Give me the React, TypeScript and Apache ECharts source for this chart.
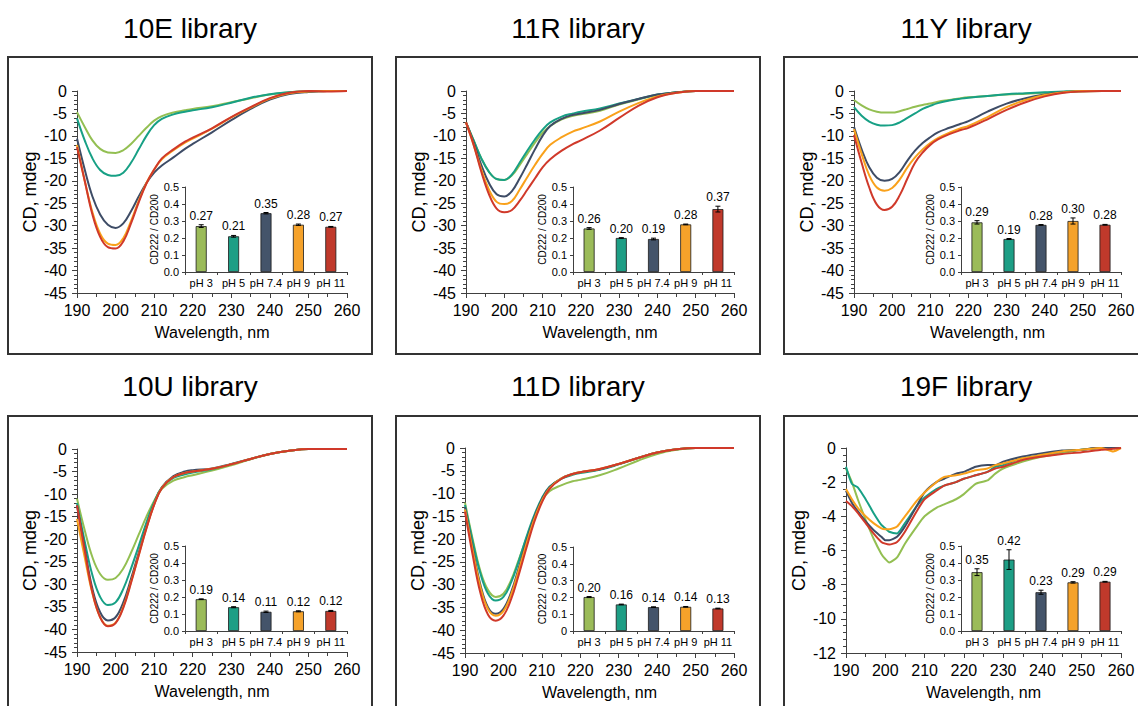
import React, { useEffect, useRef } from "react";
import * as echarts from "echarts";

// ---------- data ----------
const WL = [190, 192, 194, 196, 198, 200, 202, 204, 206, 208, 210, 212, 215, 218, 220, 225, 230, 235, 240, 245, 250, 255, 260];
const WL_19F = [190, 191.5, 193, 195, 197, 199, 200, 201, 203, 205, 208, 210, 213, 215, 218, 220, 223, 226, 228, 230, 235, 240, 245, 250, 255, 258, 260];

const CATEGORIES = ["pH 3", "pH 5", "pH 7.4", "pH 9", "pH 11"];
const TITLES = ["10E library", "11R library", "11Y library", "10U library", "11D library", "19F library"];

// 10E
const E10_PH3 = [-4.7, -8.0, -11.0, -12.9, -13.7, -13.8, -13.2, -11.8, -10.0, -8.2, -6.6, -5.6, -4.8, -4.3, -4.0, -3.4, -2.5, -1.6, -0.8, -0.3, -0.1, 0, 0];
const E10_PH5 = [-6.1, -11.0, -15.0, -17.6, -18.7, -18.9, -18.2, -16.0, -13.0, -10.0, -7.6, -6.2, -5.2, -4.6, -4.3, -3.6, -2.6, -1.5, -0.7, -0.3, -0.1, 0, 0];
const E10_PH74 = [-10.6, -17.5, -23.5, -27.5, -29.8, -30.5, -29.5, -26.8, -23.5, -20.5, -18.2, -16.6, -14.8, -12.9, -11.8, -9.2, -6.5, -4.0, -1.9, -0.7, -0.2, 0, 0];
const E10_PH9 = [-12.0, -20.0, -27.0, -31.8, -34.0, -34.3, -32.8, -29.0, -24.5, -20.5, -17.5, -15.2, -13.2, -11.5, -10.6, -8.4, -5.9, -3.7, -1.7, -0.5, -0.1, 0, 0];
const E10_PH11 = [-12.5, -20.0, -27.5, -32.5, -34.8, -35.1, -33.5, -29.5, -24.8, -20.6, -17.5, -15.0, -13.0, -11.3, -10.4, -8.3, -5.8, -3.6, -1.6, -0.4, 0, -0.1, 0];
// 11R
const R11_PH3 = [-7.0, -11.0, -15.0, -18.0, -19.6, -19.8, -18.8, -16.5, -14.0, -11.5, -9.3, -7.8, -6.3, -5.5, -5.2, -4.4, -3.0, -1.9, -0.9, -0.3, 0, 0, 0];
const R11_PH5 = [-7.0, -11.0, -15.0, -18.0, -19.6, -19.8, -18.6, -16.0, -13.3, -10.8, -8.6, -7.0, -5.7, -5.0, -4.6, -3.9, -2.8, -1.8, -0.8, -0.3, 0, 0, 0];
const R11_PH74 = [-7.0, -11.5, -16.5, -20.5, -23.0, -23.5, -22.3, -19.5, -16.3, -13.0, -10.0, -7.8, -6.2, -5.3, -5.0, -4.2, -2.9, -1.8, -0.8, -0.3, 0, 0, 0];
const R11_PH9 = [-7.0, -12.0, -17.5, -22.0, -24.7, -25.2, -24.5, -22.0, -19.2, -16.5, -14.0, -12.0, -10.3, -9.0, -8.4, -6.8, -4.6, -2.7, -1.2, -0.4, 0, 0, 0];
const R11_PH11 = [-7.0, -12.0, -18.0, -23.0, -26.2, -27.0, -26.5, -24.5, -22.0, -19.5, -17.0, -15.2, -13.3, -11.8, -11.0, -8.8, -6.0, -3.3, -1.4, -0.4, 0, 0, 0];
// 11Y
const Y11_PH3 = [-2.0, -3.2, -4.1, -4.6, -4.8, -4.8, -4.5, -4.0, -3.5, -3.1, -2.8, -2.4, -2.0, -1.6, -1.4, -1.1, -0.8, -0.6, -0.4, -0.2, -0.1, 0, 0];
const Y11_PH5 = [-3.6, -5.5, -6.8, -7.5, -7.7, -7.6, -7.0, -6.0, -5.0, -4.0, -3.3, -2.7, -2.1, -1.7, -1.5, -1.1, -0.7, -0.5, -0.3, -0.1, 0, 0, 0];
const Y11_PH74 = [-8.0, -13.0, -17.0, -19.3, -20.0, -19.6, -18.0, -15.5, -13.3, -11.6, -10.3, -9.2, -8.2, -7.3, -6.7, -4.6, -2.8, -1.6, -0.8, -0.3, 0, 0, 0];
const Y11_PH9 = [-8.5, -14.0, -18.8, -21.5, -22.2, -21.6, -19.7, -17.0, -14.8, -13.0, -11.6, -10.5, -9.3, -8.3, -7.8, -5.8, -3.6, -2.0, -0.9, -0.3, 0, 0, 0];
const Y11_PH11 = [-9.8, -16.0, -21.5, -25.3, -26.5, -25.8, -23.2, -19.5, -16.0, -13.7, -12.0, -10.8, -9.6, -8.7, -8.2, -6.3, -4.2, -2.5, -1.2, -0.4, -0.1, 0, 0];
// 10U
const U10_PH3 = [-11.0, -18.0, -24.0, -27.7, -29.0, -28.6, -26.5, -23.0, -19.0, -15.0, -11.5, -8.8, -7.0, -6.2, -5.8, -4.8, -3.6, -2.3, -1.1, -0.4, 0, 0, 0];
const U10_PH5 = [-12.0, -20.5, -28.0, -32.8, -34.6, -34.0, -31.0, -26.5, -21.5, -16.3, -11.8, -8.5, -6.4, -5.6, -5.2, -4.5, -3.4, -2.2, -1.1, -0.4, 0, 0, 0];
const U10_PH74 = [-12.5, -22.0, -31.0, -36.2, -38.0, -37.3, -34.0, -28.8, -23.0, -17.3, -12.2, -8.5, -6.0, -5.0, -4.7, -4.3, -3.3, -2.2, -1.1, -0.4, 0, 0, 0];
const U10_PH9 = [-15.5, -24.0, -32.0, -37.3, -39.2, -38.5, -35.0, -29.5, -23.5, -17.5, -12.3, -8.6, -6.2, -5.3, -5.0, -4.4, -3.4, -2.2, -1.1, -0.4, 0, 0, 0];
const U10_PH11 = [-12.5, -22.5, -31.8, -37.3, -39.3, -38.6, -35.2, -29.7, -23.6, -17.6, -12.4, -8.7, -6.2, -5.3, -5.0, -4.4, -3.4, -2.2, -1.1, -0.4, 0, 0, 0];
// 11D
const D11_PH3 = [-12.0, -20.0, -27.0, -31.2, -32.7, -32.0, -29.0, -24.5, -19.8, -15.3, -11.5, -9.5, -8.2, -7.3, -7.0, -6.0, -4.5, -2.8, -1.3, -0.4, 0, 0, 0];
const D11_PH5 = [-12.5, -20.5, -27.5, -32.0, -33.5, -32.7, -29.5, -24.8, -19.5, -14.8, -11.0, -8.5, -6.8, -5.9, -5.5, -4.8, -3.6, -2.2, -1.0, -0.3, 0, 0, 0];
const D11_PH74 = [-13.0, -22.0, -30.0, -35.0, -36.4, -35.3, -31.7, -26.3, -20.5, -15.3, -11.3, -8.6, -6.7, -5.7, -5.3, -4.7, -3.5, -2.2, -1.0, -0.3, 0, 0, 0];
const D11_PH9 = [-13.5, -22.5, -30.5, -35.4, -36.8, -35.8, -32.2, -26.8, -21.0, -15.7, -11.6, -8.8, -6.7, -5.7, -5.3, -4.6, -3.5, -2.2, -1.0, -0.3, 0, 0, 0];
const D11_PH11 = [-14.0, -23.5, -31.8, -36.6, -37.9, -36.8, -33.2, -27.8, -21.9, -16.3, -12.0, -9.0, -6.8, -5.7, -5.3, -4.6, -3.5, -2.2, -1.0, -0.3, 0, 0, 0];
// 19F
const F19_PH3 = [-1.2, -2.0, -3.0, -4.2, -5.3, -6.2, -6.5, -6.7, -6.4, -5.6, -4.6, -4.0, -3.5, -3.3, -3.0, -2.7, -2.1, -1.9, -1.5, -1.2, -0.8, -0.5, -0.3, -0.1, 0, 0, 0];
const F19_PH5 = [-1.1, -2.1, -2.3, -3.0, -3.8, -4.5, -4.7, -4.9, -5.0, -4.4, -3.4, -2.9, -2.4, -2.2, -2.0, -1.8, -1.6, -1.4, -1.1, -1.0, -0.6, -0.4, -0.2, -0.1, 0, 0, 0];
const F19_PH74 = [-2.5, -3.2, -3.7, -4.3, -4.8, -5.2, -5.4, -5.4, -5.2, -4.6, -3.4, -2.6, -2.0, -1.8, -1.5, -1.4, -1.1, -1.0, -1.0, -0.8, -0.5, -0.3, -0.15, -0.1, 0.05, 0.05, 0];
const F19_PH9 = [-2.4, -3.0, -3.5, -4.0, -4.4, -4.7, -4.75, -4.75, -4.6, -4.0, -3.1, -2.6, -2.0, -1.7, -1.6, -1.5, -1.3, -1.2, -1.0, -0.9, -0.6, -0.4, -0.2, -0.1, 0, -0.2, 0];
const F19_PH11 = [-3.1, -3.4, -3.8, -4.4, -5.0, -5.5, -5.6, -5.65, -5.5, -4.9, -3.7, -3.0, -2.5, -2.2, -2.0, -1.8, -1.6, -1.4, -1.2, -1.1, -0.7, -0.5, -0.35, -0.25, -0.1, -0.05, 0];

// inset ratios CD222/CD200 and their error bars
const RATIO_10E = [0.27, 0.21, 0.346, 0.278, 0.266];
const ERR_10E = [0.008, 0.005, 0.004, 0.004, 0.002];
const RATIO_11R = [0.256, 0.2, 0.194, 0.28, 0.37];
const ERR_11R = [0.005, 0.002, 0.005, 0.002, 0.017];
const RATIO_11Y = [0.292, 0.194, 0.277, 0.3, 0.278];
const ERR_11Y = [0.01, 0.003, 0.002, 0.018, 0.002];
const RATIO_10U = [0.187, 0.14, 0.113, 0.116, 0.118];
const ERR_10U = [0.002, 0.003, 0.004, 0.003, 0.003];
const RATIO_11D = [0.202, 0.158, 0.142, 0.144, 0.134];
const ERR_11D = [0.003, 0.002, 0.002, 0.002, 0.002];
const RATIO_19F = [0.346, 0.42, 0.228, 0.286, 0.29];
const ERR_19F = [0.02, 0.058, 0.012, 0.004, 0.002];

// ---------- styling ----------
const LINE_COLORS = ["#93BF52", "#17A085", "#3E4C66", "#F9A11B", "#D0392A"];
const BAR_COLORS = ["#9BBB59", "#1D9E85", "#44546A", "#F5A22A", "#C0392B"];
const FONT = '"Liberation Sans", Arial, sans-serif';
const AXIS = "#404040";

const PANELS = [
  { title: TITLES[0], wl: WL, curves: [E10_PH3, E10_PH5, E10_PH74, E10_PH9, E10_PH11], ratio: RATIO_10E, err: ERR_10E, yMin: -45, yStep: 5, zeroLabel: "0.0" },
  { title: TITLES[1], wl: WL, curves: [R11_PH3, R11_PH5, R11_PH74, R11_PH9, R11_PH11], ratio: RATIO_11R, err: ERR_11R, yMin: -45, yStep: 5, zeroLabel: "0.0" },
  { title: TITLES[2], wl: WL, curves: [Y11_PH3, Y11_PH5, Y11_PH74, Y11_PH9, Y11_PH11], ratio: RATIO_11Y, err: ERR_11Y, yMin: -45, yStep: 5, zeroLabel: "0.0" },
  { title: TITLES[3], wl: WL, curves: [U10_PH3, U10_PH5, U10_PH74, U10_PH9, U10_PH11], ratio: RATIO_10U, err: ERR_10U, yMin: -45, yStep: 5, zeroLabel: "0.0" },
  { title: TITLES[4], wl: WL, curves: [D11_PH3, D11_PH5, D11_PH74, D11_PH9, D11_PH11], ratio: RATIO_11D, err: ERR_11D, yMin: -45, yStep: 5, zeroLabel: "0" },
  { title: TITLES[5], wl: WL_19F, curves: [F19_PH3, F19_PH5, F19_PH74, F19_PH9, F19_PH11], ratio: RATIO_19F, err: ERR_19F, yMin: -12, yStep: 2, zeroLabel: "0.0" },
];

// page-pixel layout: box [x,y,w,h], title centre [x,y], main grid [l,t,w,h], inset grid [l,t,w,h]
const LAYOUT = [
  { box: [8, 57, 364, 297], title: [190, 28], main: [77, 91, 270, 202], inset: [185, 187, 162, 85] },
  { box: [396, 57, 364, 297], title: [578, 28], main: [466, 91, 268, 202], inset: [573, 187, 161, 85] },
  { box: [784, 57, 364, 297], title: [966, 28], main: [854, 91, 267, 202], inset: [961, 187, 160, 85] },
  { box: [8, 416, 364, 300], title: [190, 386], main: [77, 449, 270, 203], inset: [185, 546, 162, 85] },
  { box: [396, 416, 364, 300], title: [578, 386], main: [465, 448, 269, 205], inset: [573, 547, 161, 84] },
  { box: [784, 416, 364, 300], title: [966, 386], main: [846, 448, 275, 205], inset: [961, 546, 160, 85] },
];

function buildOption() {
  const grid: any[] = [];
  const xAxis: any[] = [];
  const yAxis: any[] = [];
  const series: any[] = [];
  const graphic: any[] = [];

  PANELS.forEach((p, i) => {
    const L = LAYOUT[i];
    graphic.push({
      type: "rect",
      silent: true,
      shape: { x: L.box[0], y: L.box[1], width: L.box[2], height: L.box[3] },
      style: { fill: "none", stroke: "#333", lineWidth: 2 },
    });
    graphic.push({
      type: "text",
      silent: true,
      x: L.title[0],
      y: L.title[1],
      style: {
        text: p.title,
        font: `28px ${FONT}`,
        fill: "#000",
        textAlign: "center",
        textVerticalAlign: "middle",
        align: "center",
        verticalAlign: "middle",
      },
    });

    // main chart
    const mi = grid.length;
    grid.push({ left: L.main[0], top: L.main[1], width: L.main[2], height: L.main[3] });
    xAxis.push({
      type: "value",
      gridIndex: mi,
      min: 190,
      max: 260,
      interval: 10,
      name: "Wavelength, nm",
      nameLocation: "middle",
      nameGap: 31,
      nameTextStyle: { fontSize: 16, color: "#000", fontFamily: FONT },
      axisLine: { show: true, onZero: false, lineStyle: { color: AXIS, width: 1 } },
      axisTick: { show: true, inside: false, length: 5, lineStyle: { color: AXIS } },
      minorTick: { show: true, splitNumber: 2, length: 4, lineStyle: { color: AXIS } },
      axisLabel: { fontSize: 16, color: "#000", margin: 9, fontFamily: FONT },
      splitLine: { show: false },
    });
    yAxis.push({
      type: "value",
      gridIndex: mi,
      min: p.yMin,
      max: 0,
      interval: p.yStep,
      name: "CD, mdeg",
      nameLocation: "middle",
      nameGap: 38,
      nameTextStyle: { fontSize: 18, color: "#000", fontFamily: FONT },
      axisLine: { show: true, onZero: false, lineStyle: { color: AXIS, width: 1 } },
      axisTick: { show: true, inside: false, length: 5, lineStyle: { color: AXIS } },
      minorTick: { show: true, splitNumber: 5, length: 3, lineStyle: { color: AXIS } },
      axisLabel: { fontSize: 16, color: "#000", margin: 10, fontFamily: FONT },
      splitLine: { show: false },
    });
    p.curves.forEach((c, k) => {
      series.push({
        type: "line",
        name: `${p.title} ${CATEGORIES[k]}`,
        xAxisIndex: mi,
        yAxisIndex: mi,
        data: p.wl.map((w, j) => [w, c[j]]),
        showSymbol: false,
        smooth: i === 5 ? 0.2 : 0.4,
        lineStyle: { width: 2, color: LINE_COLORS[k] },
        itemStyle: { color: LINE_COLORS[k] },
        z: 2 + k * 0.01,
      });
    });

    // inset bar chart
    const bi = grid.length;
    grid.push({ left: L.inset[0], top: L.inset[1], width: L.inset[2], height: L.inset[3] });
    xAxis.push({
      type: "category",
      gridIndex: bi,
      data: CATEGORIES,
      axisLine: { show: true, onZero: false, lineStyle: { color: AXIS, width: 1 } },
      axisTick: { show: true, inside: false, length: 3, alignWithLabel: false, lineStyle: { color: AXIS } },
      axisLabel: { fontSize: 11, color: "#000", margin: 5, interval: 0, fontFamily: FONT },
      splitLine: { show: false },
    });
    const zl = p.zeroLabel;
    yAxis.push({
      type: "value",
      gridIndex: bi,
      min: 0,
      max: 0.5,
      interval: 0.1,
      name: "CD222 / CD200",
      nameLocation: "middle",
      nameGap: 26,
      nameTextStyle: { fontSize: 10, color: "#000", fontFamily: FONT },
      axisLine: { show: true, onZero: false, lineStyle: { color: AXIS, width: 1 } },
      axisTick: { show: true, inside: false, length: 3, lineStyle: { color: AXIS } },
      axisLabel: {
        fontSize: 11,
        color: "#000",
        margin: 6,
        fontFamily: FONT,
        formatter: (v: number) => (Math.abs(v) < 1e-9 ? zl : v.toFixed(1)),
      },
      splitLine: { show: false },
    });
    series.push({
      type: "bar",
      name: `${p.title} ratio`,
      xAxisIndex: bi,
      yAxisIndex: bi,
      barWidth: 11,
      data: p.ratio.map((v, k) => ({ value: v, itemStyle: { color: BAR_COLORS[k] } })),
      itemStyle: { borderColor: "#1a1a1a", borderWidth: 0.8 },
      z: 5,
    });
    series.push({
      type: "custom",
      name: `${p.title} error`,
      xAxisIndex: bi,
      yAxisIndex: bi,
      data: p.ratio.map((v, k) => [k, v, p.err[k]]),
      z: 6,
      renderItem: (params: any, api: any) => {
        const k = api.value(0);
        const v = api.value(1);
        const e = api.value(2);
        const top = api.coord([k, v + e]);
        const bot = api.coord([k, v - e]);
        const cw = 2.5;
        const st = { stroke: "#000", lineWidth: 1 };
        return {
          type: "group",
          children: [
            { type: "line", shape: { x1: top[0], y1: top[1], x2: bot[0], y2: bot[1] }, style: st },
            { type: "line", shape: { x1: top[0] - cw, y1: top[1], x2: top[0] + cw, y2: top[1] }, style: st },
            { type: "line", shape: { x1: bot[0] - cw, y1: bot[1], x2: bot[0] + cw, y2: bot[1] }, style: st },
            {
              type: "text",
              x: top[0],
              y: top[1] - 3,
              style: {
                text: v.toFixed(2),
                fill: "#000",
                font: `12px ${FONT}`,
                align: "center",
                verticalAlign: "bottom",
              },
            },
          ],
        };
      },
    });
  });

  return {
    animation: false,
    backgroundColor: "#fff",
    textStyle: { fontFamily: FONT },
    grid,
    xAxis,
    yAxis,
    series,
    graphic,
  };
}

export default function App() {
  const ref = useRef<HTMLDivElement>(null);
  useEffect(() => {
    if (!ref.current) return;
    const chart = echarts.init(ref.current, undefined, { renderer: "svg" });
    chart.setOption(buildOption() as any);
    return () => chart.dispose();
  }, []);
  return (
    <div
      ref={ref}
      style={{ position: "absolute", left: 0, top: 0, width: 1138, height: 706, background: "#fff" }}
    />
  );
}
